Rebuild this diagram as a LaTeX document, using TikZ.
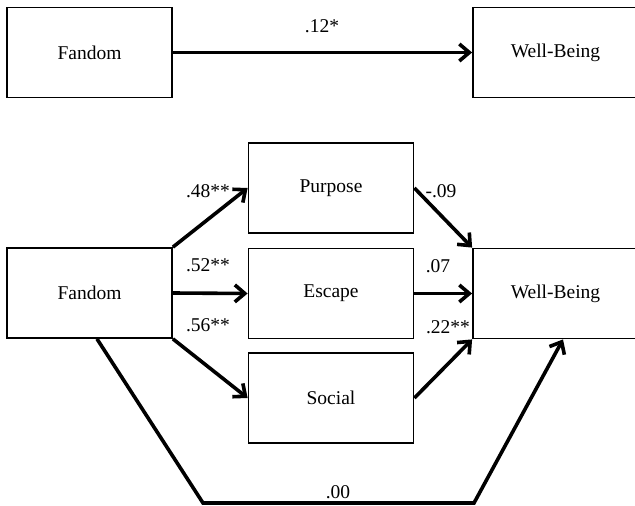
\documentclass[tikz,border=0pt]{standalone}
\usepackage{fontspec}
\setmainfont{Liberation Serif}
\usetikzlibrary{arrows.meta}

\tikzset{
  box/.style={draw,line width=1.8pt,minimum width=165pt,minimum height=90pt,inner sep=0pt,font=\fontsize{19.5}{22}\selectfont},
  link/.style={line width=3.6pt,-{Straight Barb[length=10pt,width=17pt,line width=3.6pt]}},
  coef/.style={font=\fontsize{19.5}{22}\selectfont,inner sep=0pt}
}

\begin{document}
\begin{tikzpicture}[x=1pt,y=-1pt]
    \useasboundingbox (0,0) rectangle (635,506);
    % total effect
    \node[box] (fanTop) at (89.5,52.5) {Fandom};
    \node[box] (wbTop) at (555.5,52.5) {Well-Being};
    \draw[link] (fanTop.east) -- (wbTop.west);
    \node[coef] (cTot) at (322,26) {.12*};

    % mediation model
    \node[box] (fan) at (89.5,293) {Fandom};
    \node[box] (purpose) at (331,188) {Purpose};
    \node[box] (escape) at (331,293.5) {Escape};
    \node[box] (social) at (331,398) {Social};
    \node[box] (wb) at (555.5,293.5) {Well-Being};

    \draw[link] (fan.north east) -- (purpose.west);
    \draw[link] (fan.east) -- (escape.west);
    \draw[link] (fan.south east) -- (social.west);
    \draw[link] (purpose.east) -- (wb.north west);
    \draw[link] (escape.east) -- (wb.west);
    \draw[link] (social.east) -- (wb.south west);

    \coordinate (lowL) at (203,503);
    \coordinate (lowR) at (474,503);
    \draw[link,line join=miter] ([xshift=7.5pt]fan.south) -- (lowL) -- (lowR) -- ([xshift=7.5pt]wb.south);

    \node[coef] (cPa) at (208,191) {.48**};
    \node[coef] (cEa) at (208,265) {.52**};
    \node[coef] (cSa) at (208,325) {.56**};
    \node[coef] (cPb) at (441,191) {-.09};
    \node[coef] (cEb) at (438,266) {.07};
    \node[coef] (cSb) at (448,327) {.22**};
    \node[coef] (cDir) at (338,492) {.00};
\end{tikzpicture}
\end{document}
